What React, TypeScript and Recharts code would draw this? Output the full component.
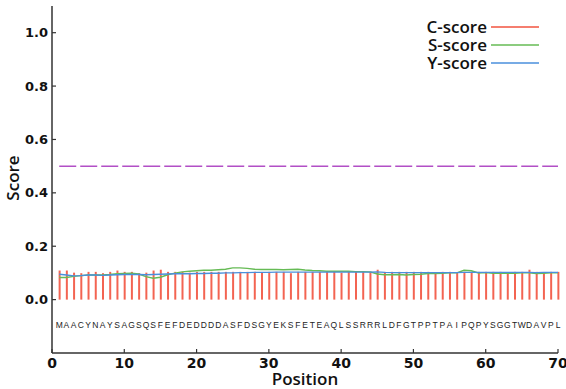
import React from 'react';
import { ComposedChart, Bar, Line, Scatter, XAxis, YAxis, ReferenceLine } from 'recharts';

const positions = Array.from({ length: 70 }, (_, i) => i + 1);
const sequence = 'MAACYNAYSAGSQSFEFDEDDDDASFDSGYEKSFETEAQLSSRRRLDFGTPPTPAIPQPYSGGTWDAVPL'.split('');

const cScore = [
  0.109, 0.109, 0.101, 0.099, 0.104, 0.104, 0.099, 0.104, 0.109, 0.104,
  0.104, 0.099, 0.101, 0.109, 0.112, 0.104, 0.104, 0.104, 0.101, 0.104,
  0.104, 0.104, 0.104, 0.104, 0.104, 0.104, 0.104, 0.104, 0.101, 0.104,
  0.104, 0.104, 0.099, 0.104, 0.104, 0.104, 0.104, 0.104, 0.104, 0.101,
  0.104, 0.104, 0.104, 0.104, 0.112, 0.104, 0.104, 0.104, 0.104, 0.104,
  0.104, 0.104, 0.101, 0.104, 0.104, 0.101, 0.104, 0.104, 0.104, 0.104,
  0.104, 0.104, 0.101, 0.104, 0.104, 0.112, 0.104, 0.101, 0.104, 0.104,
];

const sScore = [
  0.083, 0.083, 0.087, 0.090, 0.092, 0.092, 0.092, 0.094, 0.097, 0.098,
  0.099, 0.096, 0.086, 0.080, 0.084, 0.093, 0.099, 0.104, 0.106, 0.108,
  0.110, 0.110, 0.112, 0.114, 0.119, 0.119, 0.117, 0.114, 0.113, 0.113,
  0.113, 0.112, 0.113, 0.114, 0.111, 0.109, 0.108, 0.106, 0.106, 0.106,
  0.106, 0.105, 0.105, 0.104, 0.096, 0.093, 0.093, 0.094, 0.092, 0.094,
  0.095, 0.098, 0.098, 0.099, 0.100, 0.100, 0.110, 0.108, 0.100, 0.101,
  0.099, 0.099, 0.099, 0.099, 0.100, 0.100, 0.098, 0.099, 0.100, 0.100,
];

const yScore = [
  0.095, 0.092, 0.089, 0.090, 0.092, 0.092, 0.091, 0.092, 0.093, 0.094,
  0.094, 0.094, 0.093, 0.094, 0.095, 0.096, 0.097, 0.097, 0.097, 0.098,
  0.098, 0.099, 0.099, 0.100, 0.100, 0.101, 0.101, 0.102, 0.102, 0.102,
  0.103, 0.103, 0.103, 0.103, 0.103, 0.103, 0.103, 0.103, 0.103, 0.103,
  0.103, 0.103, 0.103, 0.103, 0.104, 0.102, 0.101, 0.101, 0.101, 0.101,
  0.101, 0.101, 0.101, 0.101, 0.101, 0.101, 0.102, 0.102, 0.102, 0.102,
  0.102, 0.102, 0.102, 0.102, 0.102, 0.102, 0.101, 0.102, 0.102, 0.102,
];

const yTicks = [0, 0.2, 0.4, 0.6, 0.8, 1.0];
const xTicks = [0, 10, 20, 30, 40, 50, 60, 70];
const cutoff = 0.5;

const seriesNames = ['C-score', 'S-score', 'Y-score'];
const seriesColors = ['#f2533f', '#66bb55', '#4a8fdc'];

const LETTER_ROW = -0.095;

const data = positions.map((p, i) => ({
  pos: p,
  c: cScore[i],
  s: sScore[i],
  y: yScore[i],
  aa: sequence[i],
  ly: LETTER_ROW,
}));

const FRAME = '#333';
const tickFont = 'DejaVu Sans, sans-serif';

const LeftTick = (props: any) => {
  const { x, y, payload } = props;
  return (
    <g>
      <line x1={x} x2={x + 4} y1={y} y2={y} stroke={FRAME} strokeWidth={1.2} />
      <text x={x - 4} y={y} dy={4.5} textAnchor="end" fontFamily={tickFont} fontWeight="bold" fontSize={13} fill="#111">
        {Number(payload.value).toFixed(1)}
      </text>
    </g>
  );
};

const RightTick = (props: any) => {
  const { x, y } = props;
  return <line x1={x} x2={x - 4} y1={y} y2={y} stroke={FRAME} strokeWidth={1.2} />;
};

const BottomTick = (props: any) => {
  const { x, y, payload } = props;
  return (
    <g>
      <line x1={x} x2={x} y1={y} y2={y - 4} stroke={FRAME} strokeWidth={1.2} />
      <text x={x} y={y} dy={15} textAnchor="middle" fontFamily={tickFont} fontWeight="bold" fontSize={14} fill="#111">
        {payload.value}
      </text>
    </g>
  );
};

const TopTick = (props: any) => {
  const { x, y } = props;
  return <line x1={x} x2={x} y1={y} y2={y + 4} stroke={FRAME} strokeWidth={1.2} />;
};

const LetterShape = (props: any) => {
  const { cx, cy, payload } = props;
  return (
    <text x={cx} y={cy} dy={3} textAnchor="middle" fontFamily="Liberation Sans, Arial, sans-serif" fontSize={8.5} fill="#222">
      {payload.aa}
    </text>
  );
};

const LegendBox = () => (
  <div style={{ position: 'absolute', left: 400, top: 18, width: 140, fontFamily: 'Open Sans, sans-serif', fontWeight: 600, fontSize: 17, color: '#111' }}>
    {seriesNames.map((n, i) => (
      <div key={n} style={{ display: 'flex', justifyContent: 'flex-end', alignItems: 'center', height: 18, lineHeight: '18px' }}>
        <span>{n}</span>
        <svg width={50} height={4} style={{ marginLeft: 3, display: 'block' }}>
          <line x1={1} x2={49} y1={2} y2={2} stroke={seriesColors[i]} strokeWidth={1.5} />
        </svg>
      </div>
    ))}
  </div>
);

export default function App() {
  return (
    <div style={{ position: 'absolute', left: 0, top: 0, width: 566, height: 389, background: '#fff' }}>
      <ComposedChart width={566} height={389} data={data} margin={{ top: 6, right: 8, bottom: 0, left: 0 }}>
        <XAxis
          xAxisId="b"
          dataKey="pos"
          type="number"
          domain={[0, 70]}
          ticks={xTicks}
          height={36}
          tickSize={0}
          tickMargin={0}
          tickLine={false}
          tick={<BottomTick />}
          axisLine={{ stroke: FRAME, strokeWidth: 1.5 }}
          label={{
            content: () => (
              <text x={305} y={385} textAnchor="middle" fontFamily="Open Sans, sans-serif" fontWeight={600} fontSize={17} fill="#111">
                Position
              </text>
            ),
          }}
        />
        <XAxis
          xAxisId="t"
          dataKey="pos"
          type="number"
          orientation="top"
          domain={[0, 70]}
          ticks={xTicks}
          height={0}
          tickSize={0}
          tickMargin={0}
          tickLine={false}
          tick={<TopTick />}
          axisLine={{ stroke: FRAME, strokeWidth: 1.5 }}
        />
        <YAxis
          yAxisId="l"
          type="number"
          domain={[-0.2, 1.1]}
          ticks={yTicks}
          width={52}
          tickSize={0}
          tickMargin={0}
          tickLine={false}
          tick={<LeftTick />}
          axisLine={{ stroke: FRAME, strokeWidth: 1.5 }}
          label={{
            content: () => (
              <text x={19} y={178} transform="rotate(-90 19 178)" textAnchor="middle" fontFamily="Open Sans, sans-serif" fontWeight={600} fontSize={17} fill="#111">
                Score
              </text>
            ),
          }}
        />
        <YAxis
          yAxisId="r"
          orientation="right"
          type="number"
          domain={[-0.2, 1.1]}
          ticks={yTicks}
          width={0}
          tickSize={0}
          tickMargin={0}
          tickLine={false}
          tick={<RightTick />}
          axisLine={{ stroke: '#555', strokeWidth: 2 }}
        />
        <ReferenceLine
          xAxisId="b"
          yAxisId="l"
          segment={[{ x: 1, y: cutoff }, { x: 70, y: cutoff }]}
          stroke="#b24fc6"
          strokeWidth={1.5}
          strokeDasharray="17 4"
        />
        <Bar xAxisId="b" yAxisId="l" dataKey="c" barSize={2} fill={seriesColors[0]} fillOpacity={0.9} isAnimationActive={false} />
        <Line xAxisId="b" yAxisId="l" dataKey="s" type="linear" stroke={seriesColors[1]} strokeWidth={1.4} dot={false} isAnimationActive={false} />
        <Line xAxisId="b" yAxisId="l" dataKey="y" type="linear" stroke={seriesColors[2]} strokeWidth={1.4} dot={false} isAnimationActive={false} />
        <Scatter xAxisId="b" yAxisId="l" dataKey="ly" shape={<LetterShape />} isAnimationActive={false} />
      </ComposedChart>
      <LegendBox />
    </div>
  );
}
